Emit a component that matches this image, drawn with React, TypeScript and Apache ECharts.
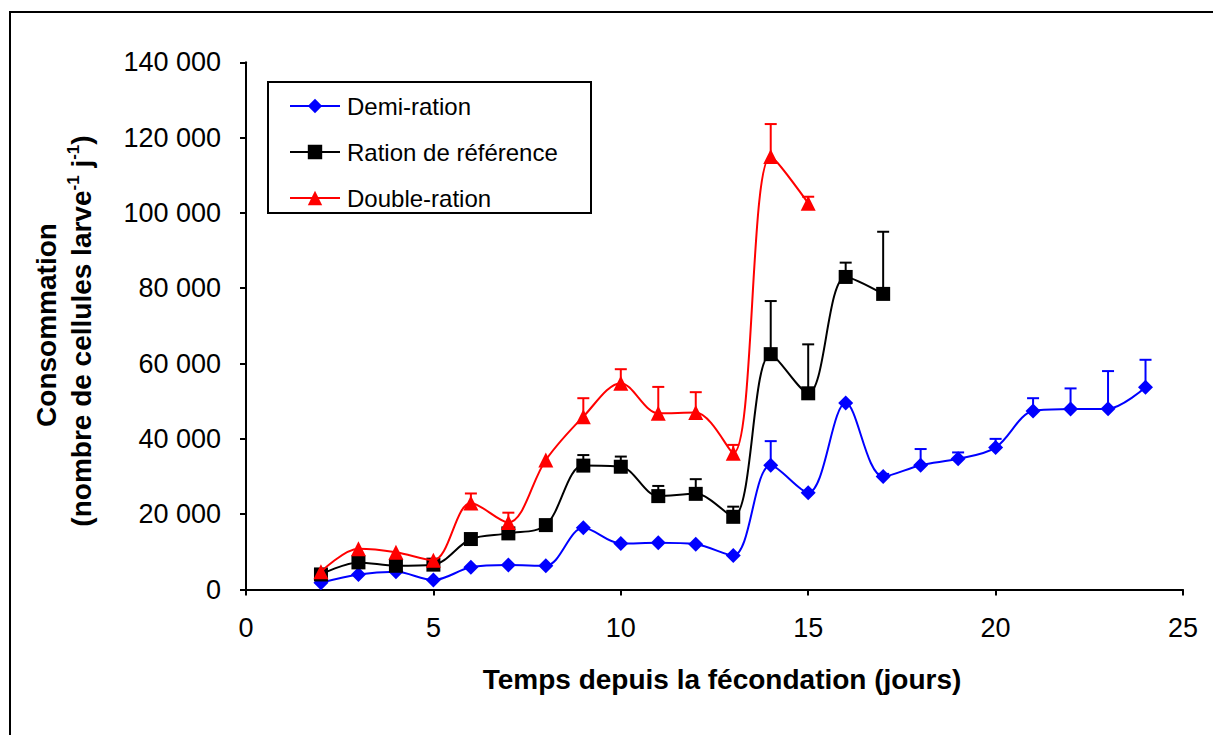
import React, { useEffect, useRef } from "react";
import * as echarts from "echarts";

const demiDays = [2, 3, 4, 5, 6, 7, 8, 9, 10, 11, 12, 13, 14, 15, 16, 17, 18, 19, 20, 21, 22, 23, 24];
const demiVals = [1800, 4000, 4700, 2500, 5900, 6500, 6300, 16400, 12200, 12400, 12000, 9000, 33000, 25700, 49500, 30000, 33000, 34700, 37700, 47400, 47900, 48000, 53700];
const demiErr = [0, 0, 0, 0, 0, 0, 0, 0, 0, 0, 0, 0, 6400, 0, 0, 700, 4300, 1700, 2300, 3400, 5500, 10000, 7300];

const refDays = [2, 3, 4, 5, 6, 7, 8, 9, 10, 11, 12, 13, 14, 15, 16, 17];
const refVals = [4000, 7200, 6300, 6600, 13400, 14900, 17100, 32900, 32600, 24800, 25400, 19300, 62500, 52100, 83000, 78500];
const refErr = [0, 0, 0, 0, 0, 0, 0, 2800, 2700, 2700, 3900, 2700, 14100, 13000, 3800, 16500];

const dblDays = [2, 3, 4, 5, 6, 7, 8, 9, 10, 11, 12, 13, 14, 15];
const dblVals = [4700, 10800, 9900, 7800, 23000, 17800, 34400, 45900, 54800, 46800, 47000, 36200, 115000, 102600];
const dblErr = [0, 0, 0, 0, 2500, 2600, 0, 4900, 3700, 7000, 5400, 2200, 8600, 1700];

const seriesNames = ["Demi-ration", "Ration de référence", "Double-ration"];
const xTitle = "Temps depuis la fécondation (jours)";
const yTitle1 = "Consommation";

const FONT = "'Liberation Sans', Arial, sans-serif";

function fmt(v: number): string {
  const s = String(Math.round(v));
  return s.replace(/\B(?=(\d{3})+(?!\d))/g, " ");
}

function errSeries(name: string, days: number[], vals: number[], errs: number[], color: string) {
  return {
    type: "custom",
    name: name + "-err",
    data: days.map((d, i) => [d, vals[i], errs[i]]),
    z: 1,
    silent: true,
    renderItem: (params: any, api: any) => {
      const x = api.value(0);
      const y = api.value(1);
      const e = api.value(2);
      if (!e) return null;
      const p0 = api.coord([x, y]);
      const p1 = api.coord([x, y + e]);
      const st = { stroke: color, lineWidth: 2 };
      return {
        type: "group",
        children: [
          { type: "line", shape: { x1: p0[0], y1: p0[1], x2: p1[0], y2: p1[1] }, style: st },
          { type: "line", shape: { x1: p1[0] - 6, y1: p1[1], x2: p1[0] + 6, y2: p1[1] }, style: st },
        ],
      };
    },
  };
}

function lineSeries(name: string, days: number[], vals: number[], color: string, symbol: string, size: number, z: number) {
  return {
    type: "line",
    name,
    data: days.map((d, i) => [d, vals[i]]),
    smooth: 0.33,
    symbol,
    symbolSize: size,
    showAllSymbol: true,
    z,
    lineStyle: { color, width: 2 },
    itemStyle: { color, borderWidth: 0 },
  };
}

export default function App() {
  const ref = useRef<HTMLDivElement>(null);
  useEffect(() => {
    if (!ref.current) return;
    const chart = echarts.init(ref.current, null, { renderer: "svg" });
    const option: any = {
      animation: false,
      backgroundColor: "#fff",
      textStyle: { fontFamily: FONT },
      grid: { left: 246, right: 30, top: 62.3, bottom: 145.5, containLabel: false, outerBoundsMode: "none" },
      xAxis: {
        type: "value",
        min: 0,
        max: 25,
        interval: 5,
        splitLine: { show: false },
        axisLine: { lineStyle: { color: "#000", width: 2 } },
        axisTick: { show: true, inside: false, length: 6, lineStyle: { color: "#000", width: 2 } },
        axisLabel: { color: "#000", fontSize: 27, fontFamily: FONT, margin: 25 },
      },
      yAxis: {
        type: "value",
        min: 0,
        max: 140000,
        interval: 20000,
        splitLine: { show: false },
        axisLine: { show: true, lineStyle: { color: "#000", width: 2 } },
        axisTick: { show: true, inside: false, length: 6, lineStyle: { color: "#000", width: 2 } },
        axisLabel: { color: "#000", fontSize: 27, fontFamily: FONT, margin: 25, formatter: (v: number) => fmt(v) },
      },
      legend: {
        data: seriesNames,
        orient: "vertical",
        left: 284,
        top: 88,
        itemWidth: 50,
        itemHeight: 18,
        itemGap: 20,
        textStyle: { fontSize: 24, lineHeight: 26, color: "#000", fontFamily: FONT, padding: [0, 0, 0, 2] },
      },
      graphic: [
        {
          type: "rect",
          shape: { x: 10, y: 12, width: 1240, height: 760 },
          style: { fill: "none", stroke: "#000", lineWidth: 2 },
          z: 100,
          silent: true,
        },
        {
          type: "rect",
          shape: { x: 268, y: 82, width: 323, height: 131 },
          style: { fill: "#fff", stroke: "#000", lineWidth: 2 },
          z: 0,
          silent: true,
        },
        {
          type: "text",
          x: 722,
          y: 679,
          style: { text: xTitle, font: "bold 28px " + FONT, fill: "#000", align: "center", verticalAlign: "middle" },
          silent: true,
        },
        {
          type: "text",
          x: 46,
          y: 325,
          rotation: Math.PI / 2,
          style: { text: yTitle1, font: "bold 28px " + FONT, fill: "#000", align: "center", verticalAlign: "middle" },
          silent: true,
        },
        {
          type: "text",
          x: 80,
          y: 331,
          rotation: Math.PI / 2,
          style: {
            text: "{b|(nombre de cellules larve}{s|-1}{b| j}{s|-1}{b|)}",
            align: "center",
            verticalAlign: "middle",
            rich: {
              b: { font: "bold 28px " + FONT, fill: "#000", lineHeight: 30, verticalAlign: "bottom" },
              s: { font: "bold 17px " + FONT, fill: "#000", lineHeight: 30, verticalAlign: "top", padding: [0, 0, 6, 0] },
            },
          },
          silent: true,
        },
      ],
      series: [
        errSeries(seriesNames[0], demiDays, demiVals, demiErr, "#0000FF"),
        errSeries(seriesNames[1], refDays, refVals, refErr, "#000000"),
        errSeries(seriesNames[2], dblDays, dblVals, dblErr, "#FF0000"),
        lineSeries(seriesNames[0], demiDays, demiVals, "#0000FF", "diamond", 15, 3),
        lineSeries(seriesNames[1], refDays, refVals, "#000000", "rect", 14, 4),
        lineSeries(seriesNames[2], dblDays, dblVals, "#FF0000", "triangle", 15, 5),
      ],
    };
    chart.setOption(option);
    return () => chart.dispose();
  }, []);
  return <div ref={ref} style={{ position: "fixed", left: 0, top: 0, width: 1213, height: 735 }} />;
}
